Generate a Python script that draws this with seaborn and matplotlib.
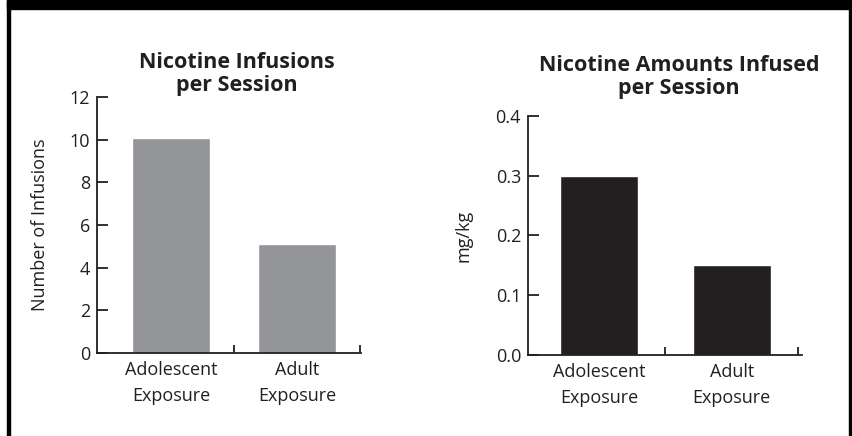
import pandas as pd
import matplotlib.pyplot as plt
from matplotlib.patches import Rectangle
import seaborn as sns

# Data #
groups = ["Adolescent\nExposure", "Adult\nExposure"]
infusions = [10.1, 5.1]
amounts = [0.30, 0.15]

infusion_ticks = [0, 2, 4, 6, 8, 10, 12]
amount_ticks = [0.0, 0.1, 0.2, 0.3, 0.4]

# Style #
sns.set_style("ticks")
plt.rcParams['font.family'] = ['Open Sans', 'DejaVu Sans']
ink = "#231f20"
grey_bar = "#939598"
black_bar = "#231f20"
font_ticks = 13
font_title = 15.5

df_inf = pd.DataFrame({"group": groups, "value": infusions})
df_amt = pd.DataFrame({"group": groups, "value": amounts})

fig = plt.figure(figsize=(8.52, 4.36), dpi=100)
W, H = 852, 436

def px_axes(x0, x1, ytop, ybot):
    return fig.add_axes([x0 / W, 1 - ybot / H, (x1 - x0) / W, (ybot - ytop) / H])

ax1 = px_axes(97, 361, 97, 353)
ax2 = px_axes(528, 802, 116, 355)

sns.barplot(data=df_inf, x="group", y="value", color=grey_bar, width=0.62,
            saturation=1, ax=ax1)
sns.barplot(data=df_amt, x="group", y="value", color=black_bar, width=0.59,
            saturation=1, ax=ax2)

def style_axis(ax, ticks, xlim, fmt, label, label_x):
    ax.set_ylim(ticks[0], ticks[-1])
    ax.set_xlim(*xlim)
    ax.set_yticks(ticks)
    ax.set_yticklabels([fmt.format(t) for t in ticks])
    ax.set_xlabel('')
    ax.set_ylabel(label, fontsize=font_ticks, color=ink)
    ax.yaxis.set_label_coords(label_x, 0.5)
    for s in ['top', 'right']:
        ax.spines[s].set_visible(False)
    for s in ['left', 'bottom']:
        ax.spines[s].set_color(ink)
        ax.spines[s].set_linewidth(1.3)
    ax.tick_params(axis='y', direction='in', length=8, width=1.3, color=ink,
                   labelsize=font_ticks, labelcolor=ink, pad=5)
    ax.tick_params(axis='x', which='major', length=0, labelsize=font_ticks,
                   labelcolor=ink, pad=6)
    ax.set_xticks([0.5, 1.5], minor=True)
    ax.tick_params(axis='x', which='minor', direction='in', length=6, width=1.3,
                   color=ink)
    for t in ax.get_xticklabels():
        t.set_linespacing(1.55)

style_axis(ax1, infusion_ticks, (-0.59, 1.51), "{:d}", "Number of Infusions", -0.182)
style_axis(ax2, amount_ticks, (-0.536, 1.53), "{:.1f}", "mg/kg", -0.204)

# Titles #
fig.text(237 / W, 1 - 74 / H, "Nicotine Infusions\nper Session", ha='center',
         va='center', fontsize=font_title, fontweight='bold', color=ink, linespacing=1.1)
fig.text(679 / W, 1 - 77 / H, "Nicotine Amounts Infused\nper Session", ha='center',
         va='center', fontsize=font_title, fontweight='bold', color=ink, linespacing=1.1)

# Frame #
fig.patches.append(Rectangle((7 / W, 1 - 9 / H), 1, 9 / H, transform=fig.transFigure,
                             color='black', zorder=10))
fig.patches.append(Rectangle((7 / W, 0), 3 / W, 1, transform=fig.transFigure,
                             color='black', zorder=10))
fig.patches.append(Rectangle((849 / W, 0), 3 / W, 1, transform=fig.transFigure,
                             color='black', zorder=10))

plt.savefig("out.png", dpi=100)
